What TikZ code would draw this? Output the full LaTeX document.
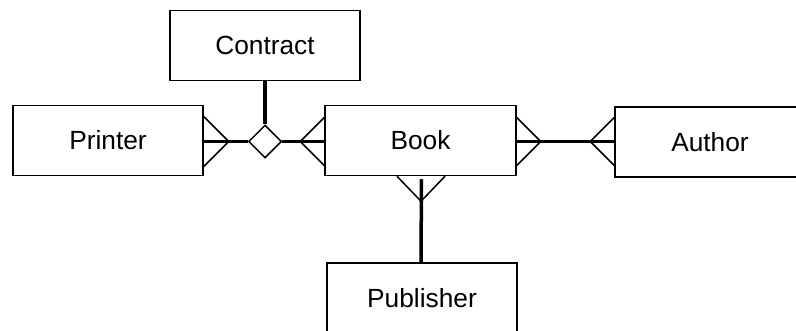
\documentclass[tikz,border=0pt]{standalone}
\usepackage{fontspec}
\setmainfont{Liberation Sans}
\usetikzlibrary{shapes.geometric,calc}
\begin{document}
\begin{tikzpicture}[x=1pt,y=-1pt,
  entity/.style={draw=black,line width=1.5pt,fill=white,minimum width=190pt,minimum height=70pt,inner sep=0pt,
    font=\fontsize{26.3}{31}\selectfont},
  rel/.style={draw=black,line width=1.5pt,fill=white,shape=diamond,minimum size=33pt,inner sep=0pt},
  conn/.style={line width=3.5pt},
  foot/.style={line width=1.5pt}]
\useasboundingbox (0,0) rectangle (796,331);
\node[entity] (contract) at (265,45.5) {Contract};
\node[entity] (printer) at (108,140.5) {Printer};
\node[entity,minimum width=191pt] (book) at (420.5,140.5) {Book};
\node[entity] (author) at (710,142) {Author};
\node[entity] (publisher) at (422,298) {Publisher};
\node[rel] (dia) at (265,141.5) {};
% thick connectors
\draw[conn] (contract.south) -- (dia.north);
\draw[conn] (printer.east |- dia) -- (dia.west);
\draw[conn] (dia.east) -- (book.west |- dia);
\draw[conn] (book.east |- 0,141.5) -- (author.west |- 0,141.5);
\draw[conn] ($(book.south)+(1,3)$) -- (publisher.north -| 421,0);
% crow's feet
\draw[foot] ($(printer.east |- dia)+(0,-25)$) -- ($(printer.east |- dia)+(25,0)$) -- ($(printer.east |- dia)+(0,25)$);
\draw[foot] ($(book.west |- dia)+(0,-24)$) -- ($(book.west |- dia)+(-24,0)$) -- ($(book.west |- dia)+(0,24)$);
\draw[foot] ($(book.east |- dia)+(0,-24)$) -- ($(book.east |- dia)+(24,0)$) -- ($(book.east |- dia)+(0,24)$);
\draw[foot] ($(author.west |- dia)+(0,-24)$) -- ($(author.west |- dia)+(-24,0)$) -- ($(author.west |- dia)+(0,24)$);
\draw[foot] ($(book.south -| 421,0)+(-24,0)$) -- ($(book.south -| 421,0)+(0,25)$) -- ($(book.south -| 421,0)+(24,0)$);
\end{tikzpicture}
\end{document}
